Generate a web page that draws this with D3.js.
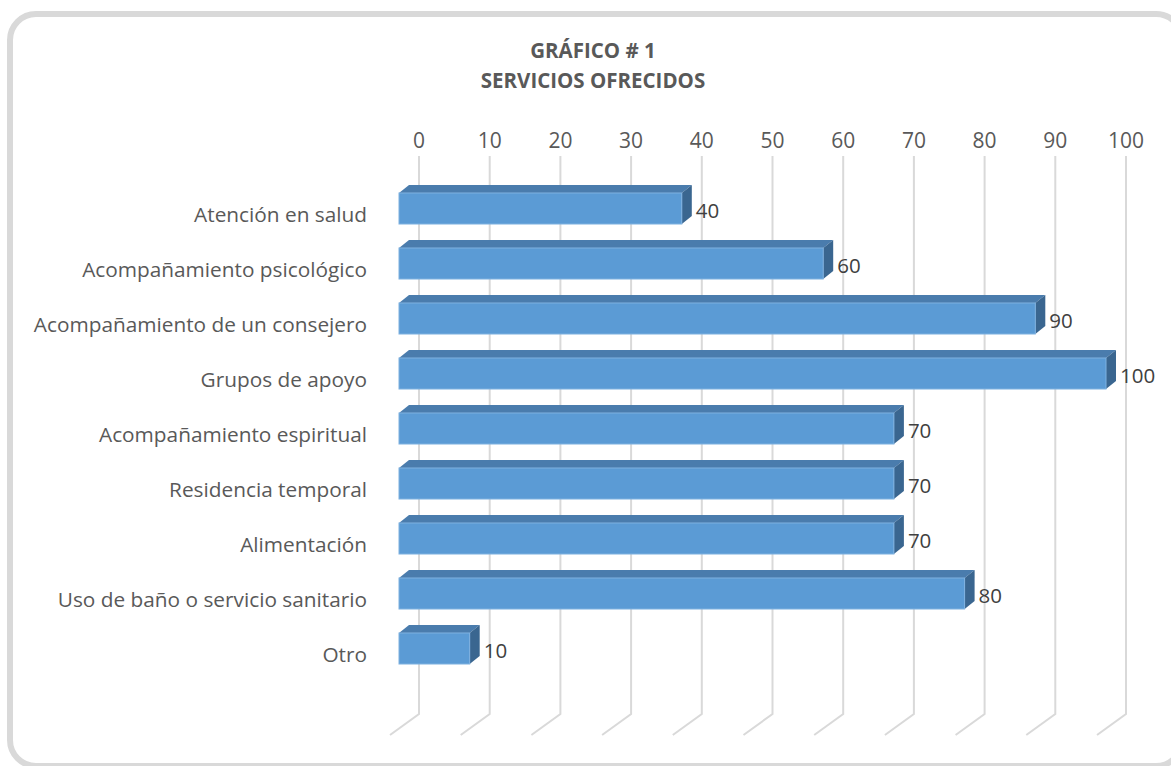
<!DOCTYPE html>
<html>
<head>
<meta charset="utf-8">
<script src="https://cdn.jsdelivr.net/npm/d3@7/dist/d3.min.js"></script>
<style>
  body { margin: 0; background: #fff; }
  text { font-family: "Open Sans", sans-serif; }
</style>
</head>
<body>
<svg id="chart"></svg>
<script>
// data
var categories = ["Atención en salud", "Acompañamiento psicológico", "Acompañamiento de un consejero",
  "Grupos de apoyo", "Acompañamiento espiritual", "Residencia temporal", "Alimentación",
  "Uso de baño o servicio sanitario", "Otro"];
var values = [40, 60, 90, 100, 70, 70, 70, 80, 10];
var tickValues = [0, 10, 20, 30, 40, 50, 60, 70, 80, 90, 100];
var titleLines = ["GRÁFICO # 1", "SERVICIOS OFRECIDOS"];

var screen = {width: 1171, height: 766};
// 3d offsets
var wallDx = 20;        // bar front is this far left of back wall
var barDepth = {dx: 10, dy: -8};
var floorDepth = {dx: -29, dy: 21};

var svg = d3.select("#chart")
  .attr("width", screen.width)
  .attr("height", screen.height);

// outer rounded border (right side runs off the picture)
svg.append("rect")
  .attr("x", 10).attr("y", 14)
  .attr("width", 1172).attr("height", 752)
  .attr("rx", 26).attr("ry", 26)
  .attr("fill", "#fff")
  .attr("stroke", "#d9d9d9")
  .attr("stroke-width", 6);

var xScale = d3.scaleLinear()
  .domain([0, 100])
  .range([419, 1126]);

var yScale = d3.scaleBand()
  .domain(categories)
  .range([181, 676])
  .paddingInner(0.436)
  .paddingOuter(0.218);

// title
svg.append("g").selectAll("text")
  .data(titleLines)
  .enter().append("text")
  .attr("x", 593)
  .attr("y", function(d, i) { return 58 + i * 30; })
  .attr("text-anchor", "middle")
  .attr("fill", "#595959")
  .attr("font-weight", "bold")
  .attr("font-size", 20.5)
  .text(function(d) { return d; });

// tick labels on top
svg.append("g").selectAll("text")
  .data(tickValues)
  .enter().append("text")
  .attr("x", function(d) { return xScale(d); })
  .attr("y", 148)
  .attr("text-anchor", "middle")
  .attr("fill", "#595959")
  .attr("font-size", 21)
  .text(function(d) { return d; });

// back wall gridlines + floor
var floorY = 714;
svg.append("g").selectAll("path")
  .data(tickValues)
  .enter().append("path")
  .attr("d", function(d) {
    var x = xScale(d);
    return "M" + x + ",156 V" + floorY + " L" + (x + floorDepth.dx) + "," + (floorY + floorDepth.dy);
  })
  .attr("fill", "none")
  .attr("stroke", "#d9d9d9")
  .attr("stroke-width", 2);

// category labels
svg.append("g").selectAll("text")
  .data(categories)
  .enter().append("text")
  .attr("x", 367)
  .attr("y", function(d) { return yScale(d) + yScale.bandwidth() / 2 + 13.5; })
  .attr("text-anchor", "end")
  .attr("fill", "#595959")
  .attr("font-size", 20.8)
  .text(function(d) { return d; });

// bars
var bars = svg.append("g").selectAll("g")
  .data(categories)
  .enter().append("g");

var x0 = function() { return xScale(0) - wallDx; };
var x1 = function(d, i) { return xScale(values[i]) - wallDx; };
var h = yScale.bandwidth();

bars.append("path")
  .attr("d", function(d, i) {
    var top = yScale(d), a = x0(), b = x1(d, i);
    return "M" + a + "," + top + " L" + (a + barDepth.dx) + "," + (top + barDepth.dy) +
      " L" + (b + barDepth.dx) + "," + (top + barDepth.dy) + " L" + b + "," + top + "Z";
  })
  .attr("fill", "#4a7cad");

bars.append("path")
  .attr("d", function(d, i) {
    var top = yScale(d), b = x1(d, i);
    return "M" + b + "," + top + " L" + (b + barDepth.dx) + "," + (top + barDepth.dy) +
      " L" + (b + barDepth.dx) + "," + (top + h + barDepth.dy) + " L" + b + "," + (top + h) + "Z";
  })
  .attr("fill", "#3a6690");

bars.append("rect")
  .attr("x", x0())
  .attr("y", function(d) { return yScale(d); })
  .attr("width", function(d, i) { return x1(d, i) - x0(); })
  .attr("height", h)
  .attr("fill", "#5b9bd5")
  .attr("stroke", "#7fb1e0")
  .attr("stroke-width", 1);

// value labels
bars.append("text")
  .attr("x", function(d, i) { return x1(d, i) + 14; })
  .attr("y", function(d) { return yScale(d) + h / 2 + 9; })
  .attr("fill", "#404040")
  .attr("font-size", 20.5)
  .text(function(d, i) { return values[i]; });
</script>
</body>
</html>
